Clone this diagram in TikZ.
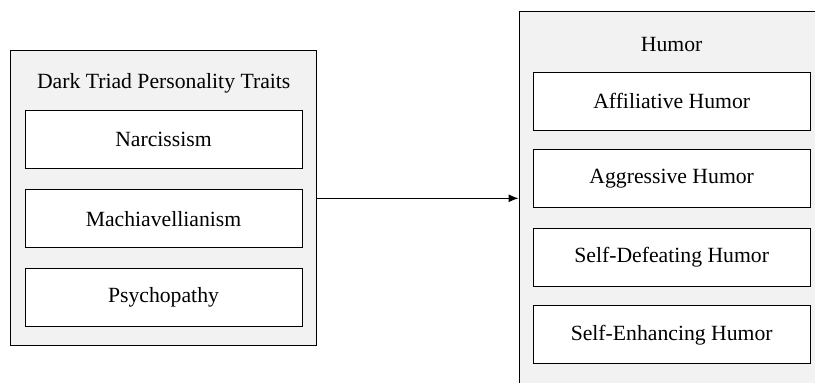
\documentclass[tikz,border=0pt]{standalone}
\usepackage{fontspec}
\setmainfont{Liberation Serif}
\usepackage{tikz}
\usetikzlibrary{arrows.meta}

\begin{document}
\begin{tikzpicture}[x=1pt, y=-1pt,
    outerbox/.style={draw, line width=1pt, fill=black!5, rectangle, inner sep=0pt},
    itembox/.style={draw, line width=1pt, fill=white, rectangle, minimum width=277pt, minimum height=58pt, inner sep=0pt},
    every node/.style={font=\fontsize{21.7}{26}\selectfont}]
    \useasboundingbox (0, 0) rectangle (815, 383);
    \clip (0, 0) rectangle (815, 383);

    \node[outerbox, minimum width=306pt, minimum height=295pt] at (163.7, 198.3) (triad) {};
    \node at (163.7, 83.5) (triadT) {Dark Triad Personality Traits};
    \node[itembox] at (163.5, 139.8) (T1N1) {Narcissism};
    \node[itembox] at (163.5, 218.8) (T1N2) {Machiavellianism};
    \node[itembox] at (163.5, 297.7) (T1N3) {Psychopathy};

    \node[outerbox, minimum width=311pt, minimum height=389pt] at (674.5, 205.5) (humor) {};
    \node at (671.7, 44.5) (humorT) {Humor};
    \node[itembox] at (671.7, 101.3) (H1N1) {Affiliative Humor};
    \node[itembox] at (671.7, 178.5) (H1N2) {Aggressive Humor};
    \node[itembox] at (671.7, 257.3) (H1N3) {Self-Defeating Humor};
    \node[itembox] at (671.7, 334.7) (H1N4) {Self-Enhancing Humor};

    \draw[-{Latex[length=10pt, width=8pt]}, line width=1pt] (triad.east) -- (triad.east -| humor.west);
\end{tikzpicture}
\end{document}
